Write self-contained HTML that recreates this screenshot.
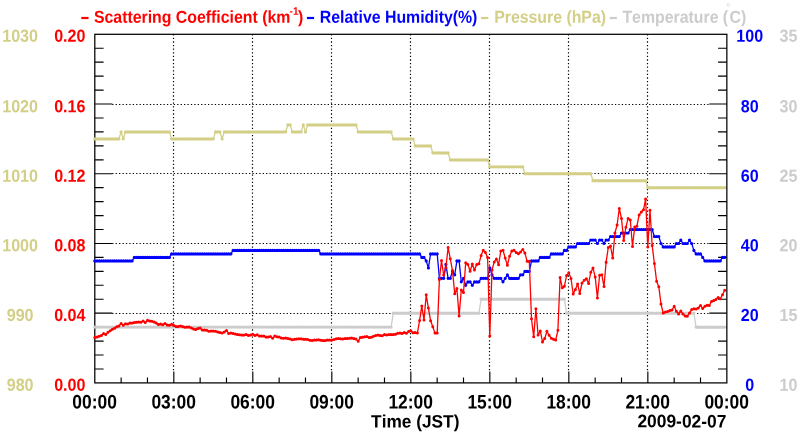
<!DOCTYPE html>
<html><head><meta charset="utf-8"><title>chart</title>
<style>
html,body{margin:0;padding:0;background:#fff;}
body{width:800px;height:434px;position:relative;overflow:hidden;font-family:"Liberation Sans",sans-serif;}
</style></head><body>
<svg width="800" height="434" viewBox="0 0 800 434" style="position:absolute;left:0;top:0;will-change:transform">
<path d="M112.20 313.50 H709.35 M112.20 243.50 H709.35 M112.20 173.50 H709.35 M112.20 104.50 H709.35" stroke="#000" stroke-width="1.2" stroke-dasharray="1.3 2.12" fill="none"/>
<path d="M173.50 34.15 V371.40 M252.50 34.15 V371.40 M331.50 34.15 V371.40 M410.50 34.15 V371.40 M489.50 34.15 V371.40 M568.50 34.15 V371.40 M647.50 34.15 V371.40" stroke="#000" stroke-width="1.2" stroke-dasharray="1.3 2.3" fill="none"/>
<path d="M94.80 368.96 h8.8 M726.85 368.96 h-8.8 M94.80 355.01 h8.8 M726.85 355.01 h-8.8 M94.80 341.07 h8.8 M726.85 341.07 h-8.8 M94.80 327.12 h8.8 M726.85 327.12 h-8.8 M94.80 313.18 h17.6 M726.85 313.18 h-17.6 M94.80 299.24 h8.8 M726.85 299.24 h-8.8 M94.80 285.29 h8.8 M726.85 285.29 h-8.8 M94.80 271.35 h8.8 M726.85 271.35 h-8.8 M94.80 257.40 h8.8 M726.85 257.40 h-8.8 M94.80 243.46 h17.6 M726.85 243.46 h-17.6 M94.80 229.52 h8.8 M726.85 229.52 h-8.8 M94.80 215.57 h8.8 M726.85 215.57 h-8.8 M94.80 201.63 h8.8 M726.85 201.63 h-8.8 M94.80 187.68 h8.8 M726.85 187.68 h-8.8 M94.80 173.74 h17.6 M726.85 173.74 h-17.6 M94.80 159.80 h8.8 M726.85 159.80 h-8.8 M94.80 145.85 h8.8 M726.85 145.85 h-8.8 M94.80 131.91 h8.8 M726.85 131.91 h-8.8 M94.80 117.96 h8.8 M726.85 117.96 h-8.8 M94.80 104.02 h17.6 M726.85 104.02 h-17.6 M94.80 90.08 h8.8 M726.85 90.08 h-8.8 M94.80 76.13 h8.8 M726.85 76.13 h-8.8 M94.80 62.19 h8.8 M726.85 62.19 h-8.8 M94.80 48.24 h8.8 M726.85 48.24 h-8.8 M121.14 382.90 v-5.5 M147.47 382.90 v-5.5 M173.81 382.90 v-11.5 M200.14 382.90 v-5.5 M226.48 382.90 v-5.5 M252.81 382.90 v-11.5 M279.15 382.90 v-5.5 M305.48 382.90 v-5.5 M331.82 382.90 v-11.5 M358.15 382.90 v-5.5 M384.49 382.90 v-5.5 M410.83 382.90 v-11.5 M437.16 382.90 v-5.5 M463.50 382.90 v-5.5 M489.83 382.90 v-11.5 M516.17 382.90 v-5.5 M542.50 382.90 v-5.5 M568.84 382.90 v-11.5 M595.17 382.90 v-5.5 M621.51 382.90 v-5.5 M647.84 382.90 v-11.5 M674.18 382.90 v-5.5 M700.51 382.90 v-5.5" stroke="#000" stroke-width="1.15" fill="none"/>
<rect x="94.80" y="34.30" width="632.05" height="348.60" fill="none" stroke="#000" stroke-width="1.25"/>
<path d="M94.8 327.1 L97.0 327.1 L99.2 327.1 L101.4 327.1 L103.6 327.1 L105.8 327.1 L108.0 327.1 L110.2 327.1 L112.4 327.1 L114.6 327.1 L116.7 327.1 L118.9 327.1 L121.1 327.1 L123.3 327.1 L125.5 327.1 L127.7 327.1 L129.9 327.1 L132.1 327.1 L134.3 327.1 L136.5 327.1 L138.7 327.1 L140.9 327.1 L143.1 327.1 L145.3 327.1 L147.5 327.1 L149.7 327.1 L151.9 327.1 L154.1 327.1 L156.2 327.1 L158.4 327.1 L160.6 327.1 L162.8 327.1 L165.0 327.1 L167.2 327.1 L169.4 327.1 L171.6 327.1 L173.8 327.1 L176.0 327.1 L178.2 327.1 L180.4 327.1 L182.6 327.1 L184.8 327.1 L187.0 327.1 L189.2 327.1 L191.4 327.1 L193.6 327.1 L195.8 327.1 L197.9 327.1 L200.1 327.1 L202.3 327.1 L204.5 327.1 L206.7 327.1 L208.9 327.1 L211.1 327.1 L213.3 327.1 L215.5 327.1 L217.7 327.1 L219.9 327.1 L222.1 327.1 L224.3 327.1 L226.5 327.1 L228.7 327.1 L230.9 327.1 L233.1 327.1 L235.3 327.1 L237.5 327.1 L239.6 327.1 L241.8 327.1 L244.0 327.1 L246.2 327.1 L248.4 327.1 L250.6 327.1 L252.8 327.1 L255.0 327.1 L257.2 327.1 L259.4 327.1 L261.6 327.1 L263.8 327.1 L266.0 327.1 L268.2 327.1 L270.4 327.1 L272.6 327.1 L274.8 327.1 L277.0 327.1 L279.1 327.1 L281.3 327.1 L283.5 327.1 L285.7 327.1 L287.9 327.1 L290.1 327.1 L292.3 327.1 L294.5 327.1 L296.7 327.1 L298.9 327.1 L301.1 327.1 L303.3 327.1 L305.5 327.1 L307.7 327.1 L309.9 327.1 L312.1 327.1 L314.3 327.1 L316.5 327.1 L318.7 327.1 L320.8 327.1 L323.0 327.1 L325.2 327.1 L327.4 327.1 L329.6 327.1 L331.8 327.1 L334.0 327.1 L336.2 327.1 L338.4 327.1 L340.6 327.1 L342.8 327.1 L345.0 327.1 L347.2 327.1 L349.4 327.1 L351.6 327.1 L353.8 327.1 L356.0 327.1 L358.2 327.1 L360.3 327.1 L362.5 327.1 L364.7 327.1 L366.9 327.1 L369.1 327.1 L371.3 327.1 L373.5 327.1 L375.7 327.1 L377.9 327.1 L380.1 327.1 L382.3 327.1 L384.5 327.1 L386.7 327.1 L388.9 327.1 L391.1 327.1 L393.3 313.2 L395.5 313.2 L397.7 313.2 L399.9 313.2 L402.0 313.2 L404.2 313.2 L406.4 313.2 L408.6 313.2 L410.8 313.2 L413.0 313.2 L415.2 313.2 L417.4 313.2 L419.6 313.2 L421.8 313.2 L424.0 313.2 L426.2 313.2 L428.4 313.2 L430.6 313.2 L432.8 313.2 L435.0 313.2 L437.2 313.2 L439.4 313.2 L441.5 313.2 L443.7 313.2 L445.9 313.2 L448.1 313.2 L450.3 313.2 L452.5 313.2 L454.7 313.2 L456.9 313.2 L459.1 313.2 L461.3 313.2 L463.5 313.2 L465.7 313.2 L467.9 313.2 L470.1 313.2 L472.3 313.2 L474.5 313.2 L476.7 313.2 L478.9 313.2 L481.1 299.2 L483.2 299.2 L485.4 299.2 L487.6 299.2 L489.8 299.2 L492.0 299.2 L494.2 299.2 L496.4 299.2 L498.6 299.2 L500.8 299.2 L503.0 299.2 L505.2 299.2 L507.4 299.2 L509.6 299.2 L511.8 299.2 L514.0 299.2 L516.2 299.2 L518.4 299.2 L520.6 299.2 L522.8 299.2 L524.9 299.2 L527.1 299.2 L529.3 299.2 L531.5 299.2 L533.7 299.2 L535.9 299.2 L538.1 299.2 L540.3 299.2 L542.5 299.2 L544.7 299.2 L546.9 299.2 L549.1 299.2 L551.3 299.2 L553.5 299.2 L555.7 299.2 L557.9 299.2 L560.1 299.2 L562.3 299.2 L564.4 299.2 L566.6 313.2 L568.8 313.2 L571.0 313.2 L573.2 313.2 L575.4 313.2 L577.6 313.2 L579.8 313.2 L582.0 313.2 L584.2 313.2 L586.4 313.2 L588.6 313.2 L590.8 313.2 L593.0 313.2 L595.2 313.2 L597.4 313.2 L599.6 313.2 L601.8 313.2 L604.0 313.2 L606.1 313.2 L608.3 313.2 L610.5 313.2 L612.7 313.2 L614.9 313.2 L617.1 313.2 L619.3 313.2 L621.5 313.2 L623.7 313.2 L625.9 313.2 L628.1 313.2 L630.3 313.2 L632.5 313.2 L634.7 313.2 L636.9 313.2 L639.1 313.2 L641.3 313.2 L643.5 313.2 L645.6 313.2 L647.8 313.2 L650.0 313.2 L652.2 313.2 L654.4 313.2 L656.6 313.2 L658.8 313.2 L661.0 313.2 L663.2 313.2 L665.4 313.2 L667.6 313.2 L669.8 313.2 L672.0 313.2 L674.2 313.2 L676.4 313.2 L678.6 313.2 L680.8 313.2 L683.0 313.2 L685.2 313.2 L687.3 313.2 L689.5 313.2 L691.7 313.2 L693.9 313.2 L696.1 327.1 L698.3 327.1 L700.5 327.1 L702.7 327.1 L704.9 327.1 L707.1 327.1 L709.3 327.1 L711.5 327.1 L713.7 327.1 L715.9 327.1 L718.1 327.1 L720.3 327.1 L722.5 327.1 L724.7 327.1" stroke="#cccccc" stroke-width="1.3" fill="none" stroke-linejoin="round"/><path d="M94.8 327.1h0 M97.0 327.1h0 M99.2 327.1h0 M101.4 327.1h0 M103.6 327.1h0 M105.8 327.1h0 M108.0 327.1h0 M110.2 327.1h0 M112.4 327.1h0 M114.6 327.1h0 M116.7 327.1h0 M118.9 327.1h0 M121.1 327.1h0 M123.3 327.1h0 M125.5 327.1h0 M127.7 327.1h0 M129.9 327.1h0 M132.1 327.1h0 M134.3 327.1h0 M136.5 327.1h0 M138.7 327.1h0 M140.9 327.1h0 M143.1 327.1h0 M145.3 327.1h0 M147.5 327.1h0 M149.7 327.1h0 M151.9 327.1h0 M154.1 327.1h0 M156.2 327.1h0 M158.4 327.1h0 M160.6 327.1h0 M162.8 327.1h0 M165.0 327.1h0 M167.2 327.1h0 M169.4 327.1h0 M171.6 327.1h0 M173.8 327.1h0 M176.0 327.1h0 M178.2 327.1h0 M180.4 327.1h0 M182.6 327.1h0 M184.8 327.1h0 M187.0 327.1h0 M189.2 327.1h0 M191.4 327.1h0 M193.6 327.1h0 M195.8 327.1h0 M197.9 327.1h0 M200.1 327.1h0 M202.3 327.1h0 M204.5 327.1h0 M206.7 327.1h0 M208.9 327.1h0 M211.1 327.1h0 M213.3 327.1h0 M215.5 327.1h0 M217.7 327.1h0 M219.9 327.1h0 M222.1 327.1h0 M224.3 327.1h0 M226.5 327.1h0 M228.7 327.1h0 M230.9 327.1h0 M233.1 327.1h0 M235.3 327.1h0 M237.5 327.1h0 M239.6 327.1h0 M241.8 327.1h0 M244.0 327.1h0 M246.2 327.1h0 M248.4 327.1h0 M250.6 327.1h0 M252.8 327.1h0 M255.0 327.1h0 M257.2 327.1h0 M259.4 327.1h0 M261.6 327.1h0 M263.8 327.1h0 M266.0 327.1h0 M268.2 327.1h0 M270.4 327.1h0 M272.6 327.1h0 M274.8 327.1h0 M277.0 327.1h0 M279.1 327.1h0 M281.3 327.1h0 M283.5 327.1h0 M285.7 327.1h0 M287.9 327.1h0 M290.1 327.1h0 M292.3 327.1h0 M294.5 327.1h0 M296.7 327.1h0 M298.9 327.1h0 M301.1 327.1h0 M303.3 327.1h0 M305.5 327.1h0 M307.7 327.1h0 M309.9 327.1h0 M312.1 327.1h0 M314.3 327.1h0 M316.5 327.1h0 M318.7 327.1h0 M320.8 327.1h0 M323.0 327.1h0 M325.2 327.1h0 M327.4 327.1h0 M329.6 327.1h0 M331.8 327.1h0 M334.0 327.1h0 M336.2 327.1h0 M338.4 327.1h0 M340.6 327.1h0 M342.8 327.1h0 M345.0 327.1h0 M347.2 327.1h0 M349.4 327.1h0 M351.6 327.1h0 M353.8 327.1h0 M356.0 327.1h0 M358.2 327.1h0 M360.3 327.1h0 M362.5 327.1h0 M364.7 327.1h0 M366.9 327.1h0 M369.1 327.1h0 M371.3 327.1h0 M373.5 327.1h0 M375.7 327.1h0 M377.9 327.1h0 M380.1 327.1h0 M382.3 327.1h0 M384.5 327.1h0 M386.7 327.1h0 M388.9 327.1h0 M391.1 327.1h0 M393.3 313.2h0 M395.5 313.2h0 M397.7 313.2h0 M399.9 313.2h0 M402.0 313.2h0 M404.2 313.2h0 M406.4 313.2h0 M408.6 313.2h0 M410.8 313.2h0 M413.0 313.2h0 M415.2 313.2h0 M417.4 313.2h0 M419.6 313.2h0 M421.8 313.2h0 M424.0 313.2h0 M426.2 313.2h0 M428.4 313.2h0 M430.6 313.2h0 M432.8 313.2h0 M435.0 313.2h0 M437.2 313.2h0 M439.4 313.2h0 M441.5 313.2h0 M443.7 313.2h0 M445.9 313.2h0 M448.1 313.2h0 M450.3 313.2h0 M452.5 313.2h0 M454.7 313.2h0 M456.9 313.2h0 M459.1 313.2h0 M461.3 313.2h0 M463.5 313.2h0 M465.7 313.2h0 M467.9 313.2h0 M470.1 313.2h0 M472.3 313.2h0 M474.5 313.2h0 M476.7 313.2h0 M478.9 313.2h0 M481.1 299.2h0 M483.2 299.2h0 M485.4 299.2h0 M487.6 299.2h0 M489.8 299.2h0 M492.0 299.2h0 M494.2 299.2h0 M496.4 299.2h0 M498.6 299.2h0 M500.8 299.2h0 M503.0 299.2h0 M505.2 299.2h0 M507.4 299.2h0 M509.6 299.2h0 M511.8 299.2h0 M514.0 299.2h0 M516.2 299.2h0 M518.4 299.2h0 M520.6 299.2h0 M522.8 299.2h0 M524.9 299.2h0 M527.1 299.2h0 M529.3 299.2h0 M531.5 299.2h0 M533.7 299.2h0 M535.9 299.2h0 M538.1 299.2h0 M540.3 299.2h0 M542.5 299.2h0 M544.7 299.2h0 M546.9 299.2h0 M549.1 299.2h0 M551.3 299.2h0 M553.5 299.2h0 M555.7 299.2h0 M557.9 299.2h0 M560.1 299.2h0 M562.3 299.2h0 M564.4 299.2h0 M566.6 313.2h0 M568.8 313.2h0 M571.0 313.2h0 M573.2 313.2h0 M575.4 313.2h0 M577.6 313.2h0 M579.8 313.2h0 M582.0 313.2h0 M584.2 313.2h0 M586.4 313.2h0 M588.6 313.2h0 M590.8 313.2h0 M593.0 313.2h0 M595.2 313.2h0 M597.4 313.2h0 M599.6 313.2h0 M601.8 313.2h0 M604.0 313.2h0 M606.1 313.2h0 M608.3 313.2h0 M610.5 313.2h0 M612.7 313.2h0 M614.9 313.2h0 M617.1 313.2h0 M619.3 313.2h0 M621.5 313.2h0 M623.7 313.2h0 M625.9 313.2h0 M628.1 313.2h0 M630.3 313.2h0 M632.5 313.2h0 M634.7 313.2h0 M636.9 313.2h0 M639.1 313.2h0 M641.3 313.2h0 M643.5 313.2h0 M645.6 313.2h0 M647.8 313.2h0 M650.0 313.2h0 M652.2 313.2h0 M654.4 313.2h0 M656.6 313.2h0 M658.8 313.2h0 M661.0 313.2h0 M663.2 313.2h0 M665.4 313.2h0 M667.6 313.2h0 M669.8 313.2h0 M672.0 313.2h0 M674.2 313.2h0 M676.4 313.2h0 M678.6 313.2h0 M680.8 313.2h0 M683.0 313.2h0 M685.2 313.2h0 M687.3 313.2h0 M689.5 313.2h0 M691.7 313.2h0 M693.9 313.2h0 M696.1 327.1h0 M698.3 327.1h0 M700.5 327.1h0 M702.7 327.1h0 M704.9 327.1h0 M707.1 327.1h0 M709.3 327.1h0 M711.5 327.1h0 M713.7 327.1h0 M715.9 327.1h0 M718.1 327.1h0 M720.3 327.1h0 M722.5 327.1h0 M724.7 327.1h0" stroke="#cccccc" stroke-width="3.2" stroke-linecap="round" fill="none"/>
<path d="M94.8 138.9 L97.0 138.9 L99.2 138.9 L101.4 138.9 L103.6 138.9 L105.8 138.9 L108.0 138.9 L110.2 138.9 L112.4 138.9 L114.6 138.9 L116.7 138.9 L118.9 138.9 L121.1 131.9 L123.3 138.9 L125.5 131.9 L127.7 131.9 L129.9 131.9 L132.1 131.9 L134.3 131.9 L136.5 131.9 L138.7 131.9 L140.9 131.9 L143.1 131.9 L145.3 131.9 L147.5 131.9 L149.7 131.9 L151.9 131.9 L154.1 131.9 L156.2 131.9 L158.4 131.9 L160.6 131.9 L162.8 131.9 L165.0 131.9 L167.2 131.9 L169.4 131.9 L171.6 138.9 L173.8 138.9 L176.0 138.9 L178.2 138.9 L180.4 138.9 L182.6 138.9 L184.8 138.9 L187.0 138.9 L189.2 138.9 L191.4 138.9 L193.6 138.9 L195.8 138.9 L197.9 138.9 L200.1 138.9 L202.3 138.9 L204.5 138.9 L206.7 138.9 L208.9 138.9 L211.1 138.9 L213.3 138.9 L215.5 131.9 L217.7 131.9 L219.9 131.9 L222.1 138.9 L224.3 131.9 L226.5 131.9 L228.7 131.9 L230.9 131.9 L233.1 131.9 L235.3 131.9 L237.5 131.9 L239.6 131.9 L241.8 131.9 L244.0 131.9 L246.2 131.9 L248.4 131.9 L250.6 131.9 L252.8 131.9 L255.0 131.9 L257.2 131.9 L259.4 131.9 L261.6 131.9 L263.8 131.9 L266.0 131.9 L268.2 131.9 L270.4 131.9 L272.6 131.9 L274.8 131.9 L277.0 131.9 L279.1 131.9 L281.3 131.9 L283.5 131.9 L285.7 131.9 L287.9 124.9 L290.1 124.9 L292.3 131.9 L294.5 131.9 L296.7 131.9 L298.9 131.9 L301.1 131.9 L303.3 124.9 L305.5 131.9 L307.7 124.9 L309.9 124.9 L312.1 124.9 L314.3 124.9 L316.5 124.9 L318.7 124.9 L320.8 124.9 L323.0 124.9 L325.2 124.9 L327.4 124.9 L329.6 124.9 L331.8 124.9 L334.0 124.9 L336.2 124.9 L338.4 124.9 L340.6 124.9 L342.8 124.9 L345.0 124.9 L347.2 124.9 L349.4 124.9 L351.6 124.9 L353.8 124.9 L356.0 124.9 L358.2 131.9 L360.3 131.9 L362.5 131.9 L364.7 131.9 L366.9 131.9 L369.1 131.9 L371.3 131.9 L373.5 131.9 L375.7 131.9 L377.9 131.9 L380.1 131.9 L382.3 131.9 L384.5 131.9 L386.7 131.9 L388.9 131.9 L391.1 131.9 L393.3 138.9 L395.5 138.9 L397.7 138.9 L399.9 138.9 L402.0 138.9 L404.2 138.9 L406.4 138.9 L408.6 138.9 L410.8 138.9 L413.0 138.9 L415.2 145.9 L417.4 145.9 L419.6 145.9 L421.8 145.9 L424.0 145.9 L426.2 145.9 L428.4 145.9 L430.6 145.9 L432.8 152.8 L435.0 152.8 L437.2 152.8 L439.4 152.8 L441.5 152.8 L443.7 152.8 L445.9 152.8 L448.1 152.8 L450.3 159.8 L452.5 159.8 L454.7 159.8 L456.9 159.8 L459.1 159.8 L461.3 159.8 L463.5 159.8 L465.7 159.8 L467.9 159.8 L470.1 159.8 L472.3 159.8 L474.5 159.8 L476.7 159.8 L478.9 159.8 L481.1 159.8 L483.2 159.8 L485.4 159.8 L487.6 159.8 L489.8 166.8 L492.0 166.8 L494.2 166.8 L496.4 166.8 L498.6 166.8 L500.8 166.8 L503.0 166.8 L505.2 166.8 L507.4 166.8 L509.6 166.8 L511.8 166.8 L514.0 166.8 L516.2 166.8 L518.4 166.8 L520.6 166.8 L522.8 166.8 L524.9 173.7 L527.1 173.7 L529.3 173.7 L531.5 173.7 L533.7 173.7 L535.9 173.7 L538.1 173.7 L540.3 173.7 L542.5 173.7 L544.7 173.7 L546.9 173.7 L549.1 173.7 L551.3 173.7 L553.5 173.7 L555.7 173.7 L557.9 173.7 L560.1 173.7 L562.3 173.7 L564.4 173.7 L566.6 173.7 L568.8 173.7 L571.0 173.7 L573.2 173.7 L575.4 173.7 L577.6 173.7 L579.8 173.7 L582.0 173.7 L584.2 173.7 L586.4 173.7 L588.6 173.7 L590.8 173.7 L593.0 180.7 L595.2 180.7 L597.4 180.7 L599.6 180.7 L601.8 180.7 L604.0 180.7 L606.1 180.7 L608.3 180.7 L610.5 180.7 L612.7 180.7 L614.9 180.7 L617.1 180.7 L619.3 180.7 L621.5 180.7 L623.7 180.7 L625.9 180.7 L628.1 180.7 L630.3 180.7 L632.5 180.7 L634.7 180.7 L636.9 180.7 L639.1 180.7 L641.3 180.7 L643.5 180.7 L645.6 180.7 L647.8 187.7 L650.0 187.7 L652.2 187.7 L654.4 187.7 L656.6 187.7 L658.8 187.7 L661.0 187.7 L663.2 187.7 L665.4 187.7 L667.6 187.7 L669.8 187.7 L672.0 187.7 L674.2 187.7 L676.4 187.7 L678.6 187.7 L680.8 187.7 L683.0 187.7 L685.2 187.7 L687.3 187.7 L689.5 187.7 L691.7 187.7 L693.9 187.7 L696.1 187.7 L698.3 187.7 L700.5 187.7 L702.7 187.7 L704.9 187.7 L707.1 187.7 L709.3 187.7 L711.5 187.7 L713.7 187.7 L715.9 187.7 L718.1 187.7 L720.3 187.7 L722.5 187.7 L724.7 187.7" stroke="#d3cf87" stroke-width="1.3" fill="none" stroke-linejoin="round"/><path d="M94.8 138.9h0 M97.0 138.9h0 M99.2 138.9h0 M101.4 138.9h0 M103.6 138.9h0 M105.8 138.9h0 M108.0 138.9h0 M110.2 138.9h0 M112.4 138.9h0 M114.6 138.9h0 M116.7 138.9h0 M118.9 138.9h0 M121.1 131.9h0 M123.3 138.9h0 M125.5 131.9h0 M127.7 131.9h0 M129.9 131.9h0 M132.1 131.9h0 M134.3 131.9h0 M136.5 131.9h0 M138.7 131.9h0 M140.9 131.9h0 M143.1 131.9h0 M145.3 131.9h0 M147.5 131.9h0 M149.7 131.9h0 M151.9 131.9h0 M154.1 131.9h0 M156.2 131.9h0 M158.4 131.9h0 M160.6 131.9h0 M162.8 131.9h0 M165.0 131.9h0 M167.2 131.9h0 M169.4 131.9h0 M171.6 138.9h0 M173.8 138.9h0 M176.0 138.9h0 M178.2 138.9h0 M180.4 138.9h0 M182.6 138.9h0 M184.8 138.9h0 M187.0 138.9h0 M189.2 138.9h0 M191.4 138.9h0 M193.6 138.9h0 M195.8 138.9h0 M197.9 138.9h0 M200.1 138.9h0 M202.3 138.9h0 M204.5 138.9h0 M206.7 138.9h0 M208.9 138.9h0 M211.1 138.9h0 M213.3 138.9h0 M215.5 131.9h0 M217.7 131.9h0 M219.9 131.9h0 M222.1 138.9h0 M224.3 131.9h0 M226.5 131.9h0 M228.7 131.9h0 M230.9 131.9h0 M233.1 131.9h0 M235.3 131.9h0 M237.5 131.9h0 M239.6 131.9h0 M241.8 131.9h0 M244.0 131.9h0 M246.2 131.9h0 M248.4 131.9h0 M250.6 131.9h0 M252.8 131.9h0 M255.0 131.9h0 M257.2 131.9h0 M259.4 131.9h0 M261.6 131.9h0 M263.8 131.9h0 M266.0 131.9h0 M268.2 131.9h0 M270.4 131.9h0 M272.6 131.9h0 M274.8 131.9h0 M277.0 131.9h0 M279.1 131.9h0 M281.3 131.9h0 M283.5 131.9h0 M285.7 131.9h0 M287.9 124.9h0 M290.1 124.9h0 M292.3 131.9h0 M294.5 131.9h0 M296.7 131.9h0 M298.9 131.9h0 M301.1 131.9h0 M303.3 124.9h0 M305.5 131.9h0 M307.7 124.9h0 M309.9 124.9h0 M312.1 124.9h0 M314.3 124.9h0 M316.5 124.9h0 M318.7 124.9h0 M320.8 124.9h0 M323.0 124.9h0 M325.2 124.9h0 M327.4 124.9h0 M329.6 124.9h0 M331.8 124.9h0 M334.0 124.9h0 M336.2 124.9h0 M338.4 124.9h0 M340.6 124.9h0 M342.8 124.9h0 M345.0 124.9h0 M347.2 124.9h0 M349.4 124.9h0 M351.6 124.9h0 M353.8 124.9h0 M356.0 124.9h0 M358.2 131.9h0 M360.3 131.9h0 M362.5 131.9h0 M364.7 131.9h0 M366.9 131.9h0 M369.1 131.9h0 M371.3 131.9h0 M373.5 131.9h0 M375.7 131.9h0 M377.9 131.9h0 M380.1 131.9h0 M382.3 131.9h0 M384.5 131.9h0 M386.7 131.9h0 M388.9 131.9h0 M391.1 131.9h0 M393.3 138.9h0 M395.5 138.9h0 M397.7 138.9h0 M399.9 138.9h0 M402.0 138.9h0 M404.2 138.9h0 M406.4 138.9h0 M408.6 138.9h0 M410.8 138.9h0 M413.0 138.9h0 M415.2 145.9h0 M417.4 145.9h0 M419.6 145.9h0 M421.8 145.9h0 M424.0 145.9h0 M426.2 145.9h0 M428.4 145.9h0 M430.6 145.9h0 M432.8 152.8h0 M435.0 152.8h0 M437.2 152.8h0 M439.4 152.8h0 M441.5 152.8h0 M443.7 152.8h0 M445.9 152.8h0 M448.1 152.8h0 M450.3 159.8h0 M452.5 159.8h0 M454.7 159.8h0 M456.9 159.8h0 M459.1 159.8h0 M461.3 159.8h0 M463.5 159.8h0 M465.7 159.8h0 M467.9 159.8h0 M470.1 159.8h0 M472.3 159.8h0 M474.5 159.8h0 M476.7 159.8h0 M478.9 159.8h0 M481.1 159.8h0 M483.2 159.8h0 M485.4 159.8h0 M487.6 159.8h0 M489.8 166.8h0 M492.0 166.8h0 M494.2 166.8h0 M496.4 166.8h0 M498.6 166.8h0 M500.8 166.8h0 M503.0 166.8h0 M505.2 166.8h0 M507.4 166.8h0 M509.6 166.8h0 M511.8 166.8h0 M514.0 166.8h0 M516.2 166.8h0 M518.4 166.8h0 M520.6 166.8h0 M522.8 166.8h0 M524.9 173.7h0 M527.1 173.7h0 M529.3 173.7h0 M531.5 173.7h0 M533.7 173.7h0 M535.9 173.7h0 M538.1 173.7h0 M540.3 173.7h0 M542.5 173.7h0 M544.7 173.7h0 M546.9 173.7h0 M549.1 173.7h0 M551.3 173.7h0 M553.5 173.7h0 M555.7 173.7h0 M557.9 173.7h0 M560.1 173.7h0 M562.3 173.7h0 M564.4 173.7h0 M566.6 173.7h0 M568.8 173.7h0 M571.0 173.7h0 M573.2 173.7h0 M575.4 173.7h0 M577.6 173.7h0 M579.8 173.7h0 M582.0 173.7h0 M584.2 173.7h0 M586.4 173.7h0 M588.6 173.7h0 M590.8 173.7h0 M593.0 180.7h0 M595.2 180.7h0 M597.4 180.7h0 M599.6 180.7h0 M601.8 180.7h0 M604.0 180.7h0 M606.1 180.7h0 M608.3 180.7h0 M610.5 180.7h0 M612.7 180.7h0 M614.9 180.7h0 M617.1 180.7h0 M619.3 180.7h0 M621.5 180.7h0 M623.7 180.7h0 M625.9 180.7h0 M628.1 180.7h0 M630.3 180.7h0 M632.5 180.7h0 M634.7 180.7h0 M636.9 180.7h0 M639.1 180.7h0 M641.3 180.7h0 M643.5 180.7h0 M645.6 180.7h0 M647.8 187.7h0 M650.0 187.7h0 M652.2 187.7h0 M654.4 187.7h0 M656.6 187.7h0 M658.8 187.7h0 M661.0 187.7h0 M663.2 187.7h0 M665.4 187.7h0 M667.6 187.7h0 M669.8 187.7h0 M672.0 187.7h0 M674.2 187.7h0 M676.4 187.7h0 M678.6 187.7h0 M680.8 187.7h0 M683.0 187.7h0 M685.2 187.7h0 M687.3 187.7h0 M689.5 187.7h0 M691.7 187.7h0 M693.9 187.7h0 M696.1 187.7h0 M698.3 187.7h0 M700.5 187.7h0 M702.7 187.7h0 M704.9 187.7h0 M707.1 187.7h0 M709.3 187.7h0 M711.5 187.7h0 M713.7 187.7h0 M715.9 187.7h0 M718.1 187.7h0 M720.3 187.7h0 M722.5 187.7h0 M724.7 187.7h0" stroke="#d3cf87" stroke-width="3.2" stroke-linecap="round" fill="none"/>
<path d="M94.8 260.9 L97.0 260.9 L99.2 260.9 L101.4 260.9 L103.6 260.9 L105.8 260.9 L108.0 260.9 L110.2 260.9 L112.4 260.9 L114.6 260.9 L116.7 260.9 L118.9 260.9 L121.1 260.9 L123.3 260.9 L125.5 260.9 L127.7 260.9 L129.9 260.9 L132.1 260.9 L134.3 257.4 L136.5 257.4 L138.7 257.4 L140.9 257.4 L143.1 257.4 L145.3 257.4 L147.5 257.4 L149.7 257.4 L151.9 257.4 L154.1 257.4 L156.2 257.4 L158.4 257.4 L160.6 257.4 L162.8 257.4 L165.0 257.4 L167.2 257.4 L169.4 257.4 L171.6 253.9 L173.8 253.9 L176.0 253.9 L178.2 253.9 L180.4 253.9 L182.6 253.9 L184.8 253.9 L187.0 253.9 L189.2 253.9 L191.4 253.9 L193.6 253.9 L195.8 253.9 L197.9 253.9 L200.1 253.9 L202.3 253.9 L204.5 253.9 L206.7 253.9 L208.9 253.9 L211.1 253.9 L213.3 253.9 L215.5 253.9 L217.7 253.9 L219.9 253.9 L222.1 253.9 L224.3 253.9 L226.5 253.9 L228.7 253.9 L230.9 253.9 L233.1 250.4 L235.3 250.4 L237.5 250.4 L239.6 250.4 L241.8 250.4 L244.0 250.4 L246.2 250.4 L248.4 250.4 L250.6 250.4 L252.8 250.4 L255.0 250.4 L257.2 250.4 L259.4 250.4 L261.6 250.4 L263.8 250.4 L266.0 250.4 L268.2 250.4 L270.4 250.4 L272.6 250.4 L274.8 250.4 L277.0 250.4 L279.1 250.4 L281.3 250.4 L283.5 250.4 L285.7 250.4 L287.9 250.4 L290.1 250.4 L292.3 250.4 L294.5 250.4 L296.7 250.4 L298.9 250.4 L301.1 250.4 L303.3 250.4 L305.5 250.4 L307.7 250.4 L309.9 250.4 L312.1 250.4 L314.3 250.4 L316.5 250.4 L318.7 250.4 L320.8 253.9 L323.0 253.9 L325.2 253.9 L327.4 253.9 L329.6 253.9 L331.8 253.9 L334.0 253.9 L336.2 253.9 L338.4 253.9 L340.6 253.9 L342.8 253.9 L345.0 253.9 L347.2 253.9 L349.4 253.9 L351.6 253.9 L353.8 253.9 L356.0 253.9 L358.2 253.9 L360.3 253.9 L362.5 253.9 L364.7 253.9 L366.9 253.9 L369.1 253.9 L371.3 253.9 L373.5 253.9 L375.7 253.9 L377.9 253.9 L380.1 253.9 L382.3 253.9 L384.5 253.9 L386.7 253.9 L388.9 253.9 L391.1 253.9 L393.3 253.9 L395.5 253.9 L397.7 253.9 L399.9 253.9 L402.0 253.9 L404.2 253.9 L406.4 253.9 L408.6 253.9 L410.8 253.9 L413.0 253.9 L415.2 253.9 L417.4 253.9 L419.6 253.9 L421.8 257.4 L424.0 257.4 L426.2 260.9 L428.4 267.9 L430.6 253.9 L432.8 253.9 L435.0 253.9 L437.2 253.9 L439.4 278.3 L441.5 278.3 L443.7 278.3 L445.9 264.4 L448.1 278.3 L450.3 278.3 L452.5 271.3 L454.7 274.8 L456.9 260.9 L459.1 260.9 L461.3 281.8 L463.5 278.3 L465.7 285.3 L467.9 281.8 L470.1 281.8 L472.3 285.3 L474.5 281.8 L476.7 281.8 L478.9 281.8 L481.1 278.3 L483.2 278.3 L485.4 278.3 L487.6 278.3 L489.8 267.9 L492.0 274.8 L494.2 278.3 L496.4 278.3 L498.6 278.3 L500.8 278.3 L503.0 281.8 L505.2 278.3 L507.4 274.8 L509.6 278.3 L511.8 278.3 L514.0 278.3 L516.2 278.3 L518.4 278.3 L520.6 274.8 L522.8 274.8 L524.9 271.3 L527.1 271.3 L529.3 271.3 L531.5 260.9 L533.7 260.9 L535.9 260.9 L538.1 260.9 L540.3 257.4 L542.5 257.4 L544.7 257.4 L546.9 257.4 L549.1 257.4 L551.3 253.9 L553.5 253.9 L555.7 253.9 L557.9 253.9 L560.1 253.9 L562.3 253.9 L564.4 250.4 L566.6 250.4 L568.8 246.9 L571.0 246.9 L573.2 246.9 L575.4 246.9 L577.6 243.5 L579.8 243.5 L582.0 243.5 L584.2 243.5 L586.4 243.5 L588.6 243.5 L590.8 240.0 L593.0 240.0 L595.2 240.0 L597.4 243.5 L599.6 240.0 L601.8 240.0 L604.0 243.5 L606.1 240.0 L608.3 240.0 L610.5 236.5 L612.7 236.5 L614.9 236.5 L617.1 236.5 L619.3 236.5 L621.5 233.0 L623.7 233.0 L625.9 233.0 L628.1 233.0 L630.3 229.5 L632.5 229.5 L634.7 229.5 L636.9 229.5 L639.1 229.5 L641.3 229.5 L643.5 229.5 L645.6 229.5 L647.8 229.5 L650.0 229.5 L652.2 229.5 L654.4 236.5 L656.6 236.5 L658.8 236.5 L661.0 243.5 L663.2 246.9 L665.4 246.9 L667.6 246.9 L669.8 246.9 L672.0 246.9 L674.2 246.9 L676.4 243.5 L678.6 243.5 L680.8 240.0 L683.0 243.5 L685.2 243.5 L687.3 243.5 L689.5 240.0 L691.7 243.5 L693.9 250.4 L696.1 253.9 L698.3 253.9 L700.5 253.9 L702.7 257.4 L704.9 260.9 L707.1 260.9 L709.3 260.9 L711.5 260.9 L713.7 260.9 L715.9 260.9 L718.1 260.9 L720.3 260.9 L722.5 257.4 L724.7 257.4" stroke="#0000ff" stroke-width="1.3" fill="none" stroke-linejoin="round"/><path d="M94.8 260.9h0 M97.0 260.9h0 M99.2 260.9h0 M101.4 260.9h0 M103.6 260.9h0 M105.8 260.9h0 M108.0 260.9h0 M110.2 260.9h0 M112.4 260.9h0 M114.6 260.9h0 M116.7 260.9h0 M118.9 260.9h0 M121.1 260.9h0 M123.3 260.9h0 M125.5 260.9h0 M127.7 260.9h0 M129.9 260.9h0 M132.1 260.9h0 M134.3 257.4h0 M136.5 257.4h0 M138.7 257.4h0 M140.9 257.4h0 M143.1 257.4h0 M145.3 257.4h0 M147.5 257.4h0 M149.7 257.4h0 M151.9 257.4h0 M154.1 257.4h0 M156.2 257.4h0 M158.4 257.4h0 M160.6 257.4h0 M162.8 257.4h0 M165.0 257.4h0 M167.2 257.4h0 M169.4 257.4h0 M171.6 253.9h0 M173.8 253.9h0 M176.0 253.9h0 M178.2 253.9h0 M180.4 253.9h0 M182.6 253.9h0 M184.8 253.9h0 M187.0 253.9h0 M189.2 253.9h0 M191.4 253.9h0 M193.6 253.9h0 M195.8 253.9h0 M197.9 253.9h0 M200.1 253.9h0 M202.3 253.9h0 M204.5 253.9h0 M206.7 253.9h0 M208.9 253.9h0 M211.1 253.9h0 M213.3 253.9h0 M215.5 253.9h0 M217.7 253.9h0 M219.9 253.9h0 M222.1 253.9h0 M224.3 253.9h0 M226.5 253.9h0 M228.7 253.9h0 M230.9 253.9h0 M233.1 250.4h0 M235.3 250.4h0 M237.5 250.4h0 M239.6 250.4h0 M241.8 250.4h0 M244.0 250.4h0 M246.2 250.4h0 M248.4 250.4h0 M250.6 250.4h0 M252.8 250.4h0 M255.0 250.4h0 M257.2 250.4h0 M259.4 250.4h0 M261.6 250.4h0 M263.8 250.4h0 M266.0 250.4h0 M268.2 250.4h0 M270.4 250.4h0 M272.6 250.4h0 M274.8 250.4h0 M277.0 250.4h0 M279.1 250.4h0 M281.3 250.4h0 M283.5 250.4h0 M285.7 250.4h0 M287.9 250.4h0 M290.1 250.4h0 M292.3 250.4h0 M294.5 250.4h0 M296.7 250.4h0 M298.9 250.4h0 M301.1 250.4h0 M303.3 250.4h0 M305.5 250.4h0 M307.7 250.4h0 M309.9 250.4h0 M312.1 250.4h0 M314.3 250.4h0 M316.5 250.4h0 M318.7 250.4h0 M320.8 253.9h0 M323.0 253.9h0 M325.2 253.9h0 M327.4 253.9h0 M329.6 253.9h0 M331.8 253.9h0 M334.0 253.9h0 M336.2 253.9h0 M338.4 253.9h0 M340.6 253.9h0 M342.8 253.9h0 M345.0 253.9h0 M347.2 253.9h0 M349.4 253.9h0 M351.6 253.9h0 M353.8 253.9h0 M356.0 253.9h0 M358.2 253.9h0 M360.3 253.9h0 M362.5 253.9h0 M364.7 253.9h0 M366.9 253.9h0 M369.1 253.9h0 M371.3 253.9h0 M373.5 253.9h0 M375.7 253.9h0 M377.9 253.9h0 M380.1 253.9h0 M382.3 253.9h0 M384.5 253.9h0 M386.7 253.9h0 M388.9 253.9h0 M391.1 253.9h0 M393.3 253.9h0 M395.5 253.9h0 M397.7 253.9h0 M399.9 253.9h0 M402.0 253.9h0 M404.2 253.9h0 M406.4 253.9h0 M408.6 253.9h0 M410.8 253.9h0 M413.0 253.9h0 M415.2 253.9h0 M417.4 253.9h0 M419.6 253.9h0 M421.8 257.4h0 M424.0 257.4h0 M426.2 260.9h0 M428.4 267.9h0 M430.6 253.9h0 M432.8 253.9h0 M435.0 253.9h0 M437.2 253.9h0 M439.4 278.3h0 M441.5 278.3h0 M443.7 278.3h0 M445.9 264.4h0 M448.1 278.3h0 M450.3 278.3h0 M452.5 271.3h0 M454.7 274.8h0 M456.9 260.9h0 M459.1 260.9h0 M461.3 281.8h0 M463.5 278.3h0 M465.7 285.3h0 M467.9 281.8h0 M470.1 281.8h0 M472.3 285.3h0 M474.5 281.8h0 M476.7 281.8h0 M478.9 281.8h0 M481.1 278.3h0 M483.2 278.3h0 M485.4 278.3h0 M487.6 278.3h0 M489.8 267.9h0 M492.0 274.8h0 M494.2 278.3h0 M496.4 278.3h0 M498.6 278.3h0 M500.8 278.3h0 M503.0 281.8h0 M505.2 278.3h0 M507.4 274.8h0 M509.6 278.3h0 M511.8 278.3h0 M514.0 278.3h0 M516.2 278.3h0 M518.4 278.3h0 M520.6 274.8h0 M522.8 274.8h0 M524.9 271.3h0 M527.1 271.3h0 M529.3 271.3h0 M531.5 260.9h0 M533.7 260.9h0 M535.9 260.9h0 M538.1 260.9h0 M540.3 257.4h0 M542.5 257.4h0 M544.7 257.4h0 M546.9 257.4h0 M549.1 257.4h0 M551.3 253.9h0 M553.5 253.9h0 M555.7 253.9h0 M557.9 253.9h0 M560.1 253.9h0 M562.3 253.9h0 M564.4 250.4h0 M566.6 250.4h0 M568.8 246.9h0 M571.0 246.9h0 M573.2 246.9h0 M575.4 246.9h0 M577.6 243.5h0 M579.8 243.5h0 M582.0 243.5h0 M584.2 243.5h0 M586.4 243.5h0 M588.6 243.5h0 M590.8 240.0h0 M593.0 240.0h0 M595.2 240.0h0 M597.4 243.5h0 M599.6 240.0h0 M601.8 240.0h0 M604.0 243.5h0 M606.1 240.0h0 M608.3 240.0h0 M610.5 236.5h0 M612.7 236.5h0 M614.9 236.5h0 M617.1 236.5h0 M619.3 236.5h0 M621.5 233.0h0 M623.7 233.0h0 M625.9 233.0h0 M628.1 233.0h0 M630.3 229.5h0 M632.5 229.5h0 M634.7 229.5h0 M636.9 229.5h0 M639.1 229.5h0 M641.3 229.5h0 M643.5 229.5h0 M645.6 229.5h0 M647.8 229.5h0 M650.0 229.5h0 M652.2 229.5h0 M654.4 236.5h0 M656.6 236.5h0 M658.8 236.5h0 M661.0 243.5h0 M663.2 246.9h0 M665.4 246.9h0 M667.6 246.9h0 M669.8 246.9h0 M672.0 246.9h0 M674.2 246.9h0 M676.4 243.5h0 M678.6 243.5h0 M680.8 240.0h0 M683.0 243.5h0 M685.2 243.5h0 M687.3 243.5h0 M689.5 240.0h0 M691.7 243.5h0 M693.9 250.4h0 M696.1 253.9h0 M698.3 253.9h0 M700.5 253.9h0 M702.7 257.4h0 M704.9 260.9h0 M707.1 260.9h0 M709.3 260.9h0 M711.5 260.9h0 M713.7 260.9h0 M715.9 260.9h0 M718.1 260.9h0 M720.3 260.9h0 M722.5 257.4h0 M724.7 257.4h0" stroke="#0000ff" stroke-width="3.2" stroke-linecap="round" fill="none"/>
<path d="M94.8 337.4 L97.0 337.0 L99.2 336.2 L101.4 335.4 L103.6 333.5 L105.8 334.6 L108.0 332.2 L110.2 330.7 L112.4 329.2 L114.6 328.2 L116.7 326.7 L118.9 325.9 L121.1 323.5 L123.3 325.2 L125.5 323.7 L127.7 324.0 L129.9 323.1 L132.1 323.0 L134.3 322.4 L136.5 322.2 L138.7 322.1 L140.9 322.2 L143.1 321.0 L145.3 322.6 L147.5 320.2 L149.7 321.0 L151.9 321.3 L154.1 322.0 L156.2 323.1 L158.4 324.6 L160.6 323.9 L162.8 324.8 L165.0 323.6 L167.2 324.9 L169.4 325.2 L171.6 324.3 L173.8 325.6 L176.0 326.4 L178.2 326.6 L180.4 325.9 L182.6 326.6 L184.8 327.2 L187.0 326.9 L189.2 326.9 L191.4 328.0 L193.6 329.1 L195.8 329.6 L197.9 328.6 L200.1 328.0 L202.3 330.1 L204.5 329.9 L206.7 330.2 L208.9 331.3 L211.1 331.0 L213.3 331.0 L215.5 331.2 L217.7 331.9 L219.9 332.4 L222.1 333.0 L224.3 331.9 L226.5 330.5 L228.7 333.6 L230.9 333.1 L233.1 333.4 L235.3 334.1 L237.5 334.6 L239.6 334.7 L241.8 334.9 L244.0 334.9 L246.2 334.5 L248.4 335.5 L250.6 335.0 L252.8 334.2 L255.0 335.4 L257.2 334.7 L259.4 336.1 L261.6 336.1 L263.8 336.1 L266.0 336.9 L268.2 337.1 L270.4 336.4 L272.6 338.2 L274.8 336.1 L277.0 336.7 L279.1 336.9 L281.3 338.1 L283.5 338.2 L285.7 337.9 L287.9 338.4 L290.1 338.9 L292.3 339.8 L294.5 339.3 L296.7 339.1 L298.9 338.7 L301.1 338.8 L303.3 339.2 L305.5 339.2 L307.7 339.5 L309.9 340.2 L312.1 340.4 L314.3 339.9 L316.5 339.9 L318.7 339.7 L320.8 340.2 L323.0 340.5 L325.2 340.6 L327.4 340.0 L329.6 340.0 L331.8 339.9 L334.0 339.4 L336.2 338.8 L338.4 338.5 L340.6 338.8 L342.8 339.1 L345.0 338.4 L347.2 338.4 L349.4 338.3 L351.6 338.1 L353.8 338.4 L356.0 339.1 L358.2 341.2 L360.3 337.6 L362.5 337.2 L364.7 336.8 L366.9 336.4 L369.1 337.5 L371.3 337.3 L373.5 336.3 L375.7 335.4 L377.9 335.0 L380.1 335.5 L382.3 335.8 L384.5 334.4 L386.7 335.1 L388.9 334.6 L391.1 334.5 L393.3 334.6 L395.5 334.2 L397.7 333.3 L399.9 333.1 L402.0 333.4 L404.2 332.4 L406.4 333.2 L408.6 331.5 L410.8 330.8 L413.0 332.7 L415.2 332.5 L417.4 333.0 L419.6 320.4 L421.8 306.1 L424.0 319.9 L426.2 294.8 L428.4 308.1 L430.6 320.8 L432.8 326.7 L435.0 333.1 L437.2 332.9 L439.4 279.4 L441.5 260.6 L443.7 275.0 L445.9 267.8 L448.1 247.5 L450.3 258.8 L452.5 270.6 L454.7 293.8 L456.9 288.5 L459.1 315.9 L461.3 290.0 L463.5 292.5 L465.7 262.8 L467.9 264.4 L470.1 271.2 L472.3 264.0 L474.5 270.0 L476.7 264.4 L478.9 263.8 L481.1 255.6 L483.2 250.2 L485.4 252.5 L487.6 257.5 L489.8 336.0 L492.0 270.0 L494.2 261.9 L496.4 259.0 L498.6 264.8 L500.8 250.9 L503.0 250.2 L505.2 258.1 L507.4 265.2 L509.6 256.2 L511.8 250.9 L514.0 250.2 L516.2 252.5 L518.4 253.8 L520.6 251.9 L522.8 249.4 L524.9 253.1 L527.1 261.2 L529.3 261.2 L531.5 318.8 L533.7 336.8 L535.9 308.8 L538.1 335.0 L540.3 330.9 L542.5 341.9 L544.7 338.6 L546.9 331.2 L549.1 335.3 L551.3 338.2 L553.5 339.2 L555.7 340.0 L557.9 330.3 L560.1 277.5 L562.3 287.8 L564.4 286.2 L566.6 275.6 L568.8 272.8 L571.0 278.5 L573.2 294.0 L575.4 289.4 L577.6 284.0 L579.8 293.5 L582.0 283.1 L584.2 280.2 L586.4 278.8 L588.6 283.5 L590.8 272.2 L593.0 268.1 L595.2 276.9 L597.4 297.9 L599.6 275.2 L601.8 274.8 L604.0 286.5 L606.1 262.2 L608.3 247.5 L610.5 246.0 L612.7 258.1 L614.9 233.1 L617.1 225.0 L619.3 208.5 L621.5 218.5 L623.7 240.6 L625.9 227.2 L628.1 218.5 L630.3 220.0 L632.5 246.5 L634.7 226.9 L636.9 226.2 L639.1 215.0 L641.3 211.9 L643.5 209.8 L645.6 199.0 L647.8 247.1 L650.0 210.2 L652.2 245.6 L654.4 263.5 L656.6 281.2 L658.8 286.7 L661.0 304.0 L663.2 313.1 L665.4 311.9 L667.6 311.6 L669.8 310.6 L672.0 310.0 L674.2 306.2 L676.4 311.2 L678.6 314.0 L680.8 311.0 L683.0 314.0 L685.2 316.0 L687.3 316.2 L689.5 313.1 L691.7 309.4 L693.9 308.8 L696.1 309.0 L698.3 308.1 L700.5 305.4 L702.7 308.5 L704.9 306.2 L707.1 305.2 L709.3 305.4 L711.5 301.5 L713.7 300.6 L715.9 299.4 L718.1 297.5 L720.3 298.8 L722.5 294.8 L724.7 290.2" stroke="#ff0000" stroke-width="1.3" fill="none" stroke-linejoin="round"/><path d="M94.8 337.4h0 M97.0 337.0h0 M99.2 336.2h0 M101.4 335.4h0 M103.6 333.5h0 M105.8 334.6h0 M108.0 332.2h0 M110.2 330.7h0 M112.4 329.2h0 M114.6 328.2h0 M116.7 326.7h0 M118.9 325.9h0 M121.1 323.5h0 M123.3 325.2h0 M125.5 323.7h0 M127.7 324.0h0 M129.9 323.1h0 M132.1 323.0h0 M134.3 322.4h0 M136.5 322.2h0 M138.7 322.1h0 M140.9 322.2h0 M143.1 321.0h0 M145.3 322.6h0 M147.5 320.2h0 M149.7 321.0h0 M151.9 321.3h0 M154.1 322.0h0 M156.2 323.1h0 M158.4 324.6h0 M160.6 323.9h0 M162.8 324.8h0 M165.0 323.6h0 M167.2 324.9h0 M169.4 325.2h0 M171.6 324.3h0 M173.8 325.6h0 M176.0 326.4h0 M178.2 326.6h0 M180.4 325.9h0 M182.6 326.6h0 M184.8 327.2h0 M187.0 326.9h0 M189.2 326.9h0 M191.4 328.0h0 M193.6 329.1h0 M195.8 329.6h0 M197.9 328.6h0 M200.1 328.0h0 M202.3 330.1h0 M204.5 329.9h0 M206.7 330.2h0 M208.9 331.3h0 M211.1 331.0h0 M213.3 331.0h0 M215.5 331.2h0 M217.7 331.9h0 M219.9 332.4h0 M222.1 333.0h0 M224.3 331.9h0 M226.5 330.5h0 M228.7 333.6h0 M230.9 333.1h0 M233.1 333.4h0 M235.3 334.1h0 M237.5 334.6h0 M239.6 334.7h0 M241.8 334.9h0 M244.0 334.9h0 M246.2 334.5h0 M248.4 335.5h0 M250.6 335.0h0 M252.8 334.2h0 M255.0 335.4h0 M257.2 334.7h0 M259.4 336.1h0 M261.6 336.1h0 M263.8 336.1h0 M266.0 336.9h0 M268.2 337.1h0 M270.4 336.4h0 M272.6 338.2h0 M274.8 336.1h0 M277.0 336.7h0 M279.1 336.9h0 M281.3 338.1h0 M283.5 338.2h0 M285.7 337.9h0 M287.9 338.4h0 M290.1 338.9h0 M292.3 339.8h0 M294.5 339.3h0 M296.7 339.1h0 M298.9 338.7h0 M301.1 338.8h0 M303.3 339.2h0 M305.5 339.2h0 M307.7 339.5h0 M309.9 340.2h0 M312.1 340.4h0 M314.3 339.9h0 M316.5 339.9h0 M318.7 339.7h0 M320.8 340.2h0 M323.0 340.5h0 M325.2 340.6h0 M327.4 340.0h0 M329.6 340.0h0 M331.8 339.9h0 M334.0 339.4h0 M336.2 338.8h0 M338.4 338.5h0 M340.6 338.8h0 M342.8 339.1h0 M345.0 338.4h0 M347.2 338.4h0 M349.4 338.3h0 M351.6 338.1h0 M353.8 338.4h0 M356.0 339.1h0 M358.2 341.2h0 M360.3 337.6h0 M362.5 337.2h0 M364.7 336.8h0 M366.9 336.4h0 M369.1 337.5h0 M371.3 337.3h0 M373.5 336.3h0 M375.7 335.4h0 M377.9 335.0h0 M380.1 335.5h0 M382.3 335.8h0 M384.5 334.4h0 M386.7 335.1h0 M388.9 334.6h0 M391.1 334.5h0 M393.3 334.6h0 M395.5 334.2h0 M397.7 333.3h0 M399.9 333.1h0 M402.0 333.4h0 M404.2 332.4h0 M406.4 333.2h0 M408.6 331.5h0 M410.8 330.8h0 M413.0 332.7h0 M415.2 332.5h0 M417.4 333.0h0 M419.6 320.4h0 M421.8 306.1h0 M424.0 319.9h0 M426.2 294.8h0 M428.4 308.1h0 M430.6 320.8h0 M432.8 326.7h0 M435.0 333.1h0 M437.2 332.9h0 M439.4 279.4h0 M441.5 260.6h0 M443.7 275.0h0 M445.9 267.8h0 M448.1 247.5h0 M450.3 258.8h0 M452.5 270.6h0 M454.7 293.8h0 M456.9 288.5h0 M459.1 315.9h0 M461.3 290.0h0 M463.5 292.5h0 M465.7 262.8h0 M467.9 264.4h0 M470.1 271.2h0 M472.3 264.0h0 M474.5 270.0h0 M476.7 264.4h0 M478.9 263.8h0 M481.1 255.6h0 M483.2 250.2h0 M485.4 252.5h0 M487.6 257.5h0 M489.8 336.0h0 M492.0 270.0h0 M494.2 261.9h0 M496.4 259.0h0 M498.6 264.8h0 M500.8 250.9h0 M503.0 250.2h0 M505.2 258.1h0 M507.4 265.2h0 M509.6 256.2h0 M511.8 250.9h0 M514.0 250.2h0 M516.2 252.5h0 M518.4 253.8h0 M520.6 251.9h0 M522.8 249.4h0 M524.9 253.1h0 M527.1 261.2h0 M529.3 261.2h0 M531.5 318.8h0 M533.7 336.8h0 M535.9 308.8h0 M538.1 335.0h0 M540.3 330.9h0 M542.5 341.9h0 M544.7 338.6h0 M546.9 331.2h0 M549.1 335.3h0 M551.3 338.2h0 M553.5 339.2h0 M555.7 340.0h0 M557.9 330.3h0 M560.1 277.5h0 M562.3 287.8h0 M564.4 286.2h0 M566.6 275.6h0 M568.8 272.8h0 M571.0 278.5h0 M573.2 294.0h0 M575.4 289.4h0 M577.6 284.0h0 M579.8 293.5h0 M582.0 283.1h0 M584.2 280.2h0 M586.4 278.8h0 M588.6 283.5h0 M590.8 272.2h0 M593.0 268.1h0 M595.2 276.9h0 M597.4 297.9h0 M599.6 275.2h0 M601.8 274.8h0 M604.0 286.5h0 M606.1 262.2h0 M608.3 247.5h0 M610.5 246.0h0 M612.7 258.1h0 M614.9 233.1h0 M617.1 225.0h0 M619.3 208.5h0 M621.5 218.5h0 M623.7 240.6h0 M625.9 227.2h0 M628.1 218.5h0 M630.3 220.0h0 M632.5 246.5h0 M634.7 226.9h0 M636.9 226.2h0 M639.1 215.0h0 M641.3 211.9h0 M643.5 209.8h0 M645.6 199.0h0 M647.8 247.1h0 M650.0 210.2h0 M652.2 245.6h0 M654.4 263.5h0 M656.6 281.2h0 M658.8 286.7h0 M661.0 304.0h0 M663.2 313.1h0 M665.4 311.9h0 M667.6 311.6h0 M669.8 310.6h0 M672.0 310.0h0 M674.2 306.2h0 M676.4 311.2h0 M678.6 314.0h0 M680.8 311.0h0 M683.0 314.0h0 M685.2 316.0h0 M687.3 316.2h0 M689.5 313.1h0 M691.7 309.4h0 M693.9 308.8h0 M696.1 309.0h0 M698.3 308.1h0 M700.5 305.4h0 M702.7 308.5h0 M704.9 306.2h0 M707.1 305.2h0 M709.3 305.4h0 M711.5 301.5h0 M713.7 300.6h0 M715.9 299.4h0 M718.1 297.5h0 M720.3 298.8h0 M722.5 294.8h0 M724.7 290.2h0" stroke="#ff0000" stroke-width="3.0" stroke-linecap="round" fill="none"/>
<g font-family="'Liberation Sans', sans-serif" font-weight="bold" style="font-kerning:none">
<text transform="translate(20.10 390.70) rotate(0.03) scale(1 1.090)" fill="#d3cf87" font-size="16.1" text-anchor="middle">980</text>
<text transform="translate(69.80 390.70) rotate(0.03) scale(1 1.090)" fill="#ff0000" font-size="16.1" text-anchor="middle">0.00</text>
<text transform="translate(749.70 390.70) rotate(0.03) scale(1 1.090)" fill="#0000ff" font-size="16.1" text-anchor="middle">0</text>
<text transform="translate(788.40 390.70) rotate(0.03) scale(1 1.090)" fill="#cccccc" font-size="16.1" text-anchor="middle">10</text>
<text transform="translate(20.10 321.08) rotate(0.03) scale(1 1.090)" fill="#d3cf87" font-size="16.1" text-anchor="middle">990</text>
<text transform="translate(69.80 321.08) rotate(0.03) scale(1 1.090)" fill="#ff0000" font-size="16.1" text-anchor="middle">0.04</text>
<text transform="translate(749.70 321.08) rotate(0.03) scale(1 1.090)" fill="#0000ff" font-size="16.1" text-anchor="middle">20</text>
<text transform="translate(788.40 321.08) rotate(0.03) scale(1 1.090)" fill="#cccccc" font-size="16.1" text-anchor="middle">15</text>
<text transform="translate(20.10 251.16) rotate(0.03) scale(1 1.090)" fill="#d3cf87" font-size="16.1" text-anchor="middle">1000</text>
<text transform="translate(69.80 251.16) rotate(0.03) scale(1 1.090)" fill="#ff0000" font-size="16.1" text-anchor="middle">0.08</text>
<text transform="translate(749.70 251.16) rotate(0.03) scale(1 1.090)" fill="#0000ff" font-size="16.1" text-anchor="middle">40</text>
<text transform="translate(788.40 251.16) rotate(0.03) scale(1 1.090)" fill="#cccccc" font-size="16.1" text-anchor="middle">20</text>
<text transform="translate(20.10 181.84) rotate(0.03) scale(1 1.090)" fill="#d3cf87" font-size="16.1" text-anchor="middle">1010</text>
<text transform="translate(69.80 181.84) rotate(0.03) scale(1 1.090)" fill="#ff0000" font-size="16.1" text-anchor="middle">0.12</text>
<text transform="translate(749.70 181.84) rotate(0.03) scale(1 1.090)" fill="#0000ff" font-size="16.1" text-anchor="middle">60</text>
<text transform="translate(788.40 181.84) rotate(0.03) scale(1 1.090)" fill="#cccccc" font-size="16.1" text-anchor="middle">25</text>
<text transform="translate(20.10 112.22) rotate(0.03) scale(1 1.090)" fill="#d3cf87" font-size="16.1" text-anchor="middle">1020</text>
<text transform="translate(69.80 112.22) rotate(0.03) scale(1 1.090)" fill="#ff0000" font-size="16.1" text-anchor="middle">0.16</text>
<text transform="translate(749.70 112.22) rotate(0.03) scale(1 1.090)" fill="#0000ff" font-size="16.1" text-anchor="middle">80</text>
<text transform="translate(788.40 112.22) rotate(0.03) scale(1 1.090)" fill="#cccccc" font-size="16.1" text-anchor="middle">30</text>
<text transform="translate(20.10 41.75) rotate(0.03) scale(1 1.090)" fill="#d3cf87" font-size="16.1" text-anchor="middle">1030</text>
<text transform="translate(69.80 41.75) rotate(0.03) scale(1 1.090)" fill="#ff0000" font-size="16.1" text-anchor="middle">0.20</text>
<text transform="translate(749.70 41.75) rotate(0.03) scale(1 1.090)" fill="#0000ff" font-size="16.1" text-anchor="middle">100</text>
<text transform="translate(788.40 41.75) rotate(0.03) scale(1 1.090)" fill="#cccccc" font-size="16.1" text-anchor="middle">35</text>
<text transform="translate(94.60 408.50) rotate(0.03) scale(1 1.130)" fill="#000" font-size="17.4" text-anchor="middle">00:00</text>
<text transform="translate(173.61 408.50) rotate(0.03) scale(1 1.130)" fill="#000" font-size="17.4" text-anchor="middle">03:00</text>
<text transform="translate(252.61 408.50) rotate(0.03) scale(1 1.130)" fill="#000" font-size="17.4" text-anchor="middle">06:00</text>
<text transform="translate(331.62 408.50) rotate(0.03) scale(1 1.130)" fill="#000" font-size="17.4" text-anchor="middle">09:00</text>
<text transform="translate(410.63 408.50) rotate(0.03) scale(1 1.130)" fill="#000" font-size="17.4" text-anchor="middle">12:00</text>
<text transform="translate(489.63 408.50) rotate(0.03) scale(1 1.130)" fill="#000" font-size="17.4" text-anchor="middle">15:00</text>
<text transform="translate(568.64 408.50) rotate(0.03) scale(1 1.130)" fill="#000" font-size="17.4" text-anchor="middle">18:00</text>
<text transform="translate(647.64 408.50) rotate(0.03) scale(1 1.130)" fill="#000" font-size="17.4" text-anchor="middle">21:00</text>
<text transform="translate(726.65 408.50) rotate(0.03) scale(1 1.130)" fill="#000" font-size="17.4" text-anchor="middle">00:00</text>
<text transform="translate(371.10 427.40) rotate(0.03) scale(1 1.040)" fill="#000" font-size="17.3" text-anchor="start">Time (JST)</text>
<text transform="translate(726.40 427.40) rotate(0.03) scale(1 1.040)" fill="#000" font-size="17.4" text-anchor="end">2009-02-07</text>
<rect x="81.30" y="16.9" width="7.2" height="2.2" fill="#ff0000"/>
<text transform="translate(93.94 22.70) rotate(0.03) scale(1 1.090)" fill="#ff0000" font-size="15.87" text-anchor="start">Scattering Coefficient (km</text>
<text transform="translate(289.61 14.80) rotate(0.03) scale(1 1.090)" fill="#ff0000" font-size="10" text-anchor="start">-1</text>
<text transform="translate(297.98 22.70) rotate(0.03) scale(1 1.090)" fill="#ff0000" font-size="15.87" text-anchor="start">)</text>
<rect x="306.90" y="16.9" width="7.2" height="2.2" fill="#0000ff"/>
<text transform="translate(319.74 22.70) rotate(0.03) scale(1 1.090)" fill="#0000ff" font-size="15.87" text-anchor="start">Relative Humidity(%)</text>
<rect x="481.10" y="16.9" width="7.2" height="2.2" fill="#d3cf87"/>
<text transform="translate(494.14 22.70) rotate(0.03) scale(1 1.090)" fill="#d3cf87" font-size="15.87" text-anchor="start">Pressure (hPa)</text>
<rect x="609.70" y="16.9" width="7.2" height="2.2" fill="#cccccc"/>
<text transform="translate(622.43 22.70) rotate(0.03) scale(1 1.090)" fill="#cccccc" font-size="15.87" text-anchor="start">Temperature (</text>
<text transform="translate(729.45 22.70) rotate(0.03) scale(1 1.090)" fill="#cccccc" font-size="15.87" text-anchor="start">C)</text>
<circle cx="728.3" cy="4.8" r="1.35" fill="none" stroke="#cccccc" stroke-width="0.6"/>
</g>
</svg>
</body></html>
